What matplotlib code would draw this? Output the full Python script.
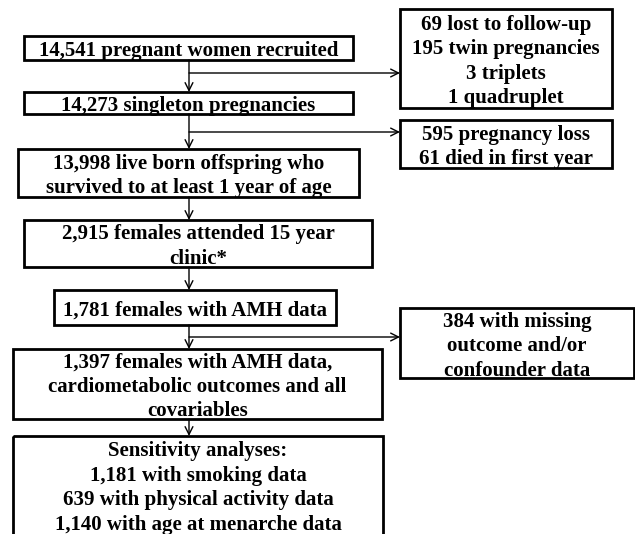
import matplotlib
matplotlib.use("Agg")
import matplotlib.pyplot as plt
from matplotlib.patches import Rectangle

plt.rcParams['font.family'] = ['Liberation Serif', 'DejaVu Serif']

# main flow boxes (top to bottom)
main_labels = [
    "14,541 pregnant women recruited",
    "14,273 singleton pregnancies",
    "13,998 live born offspring who\nsurvived to at least 1 year of age",
    "2,915 females attended 15 year\nclinic*",
    "1,781 females with AMH data",
    "1,397 females with AMH data,\ncardiometabolic outcomes and all\ncovariables",
    "Sensitivity analyses:\n1,181 with smoking data\n639 with physical activity data\n1,140 with age at menarche data",
]
# exclusion boxes on the right
side_labels = [
    "69 lost to follow-up\n195 twin pregnancies\n3 triplets\n1 quadruplet",
    "595 pregnancy loss\n61 died in first year",
    "384 with missing\noutcome and/or\nconfounder data",
]

# box geometry in pixels: (x0, y0, x1, y1), y measured from top
main_boxes = [(24, 36, 353, 60), (24, 92, 353, 114), (18, 149, 359, 197),
              (24, 220, 372, 267), (54, 290, 336, 325), (13, 349, 382, 419),
              (13, 436, 383, 540)]
side_boxes = [(400, 9, 612, 108), (400, 120, 612, 168), (400, 308, 634, 378)]
side_arrow_y = [73, 132, 337]
spine_x = 189

fig = plt.figure(figsize=(6.35, 5.34), dpi=100)
ax = fig.add_axes([0, 0, 1, 1])
ax.set_xlim(0, 635)
ax.set_ylim(534, 0)
ax.axis('off')

def draw_box(box, text, ytxt=None):
    x0, y0, x1, y1 = box
    ax.add_patch(Rectangle((x0, y0), x1 - x0, y1 - y0, fill=False,
                           edgecolor='black', linewidth=2.0))
    yc = (y0 + y1) / 2 if ytxt is None else ytxt
    ax.text((x0 + x1) / 2, yc + 3, text, ha='center', va='center',
            fontsize=15, fontweight='bold', linespacing=1.3)

for i, (b, t) in enumerate(zip(main_boxes, main_labels)):
    if i == len(main_boxes) - 1:
        # box runs off the bottom of the page, so place the text by hand
        draw_box(b, t, ytxt=485)
    else:
        draw_box(b, t)
for b, t in zip(side_boxes, side_labels):
    draw_box(b, t)

arrow = dict(arrowstyle='->', color='black', lw=1.0,
             shrinkA=0, shrinkB=0, mutation_scale=14)

# vertical arrows between main boxes
for a, b in zip(main_boxes[:-1], main_boxes[1:]):
    ax.annotate('', xy=(spine_x, b[1]), xytext=(spine_x, a[3]), arrowprops=arrow)

# horizontal arrows to exclusion boxes
for y, b in zip(side_arrow_y, side_boxes):
    ax.annotate('', xy=(b[0], y), xytext=(spine_x, y), arrowprops=arrow)

fig.savefig('out.png', dpi=100)
